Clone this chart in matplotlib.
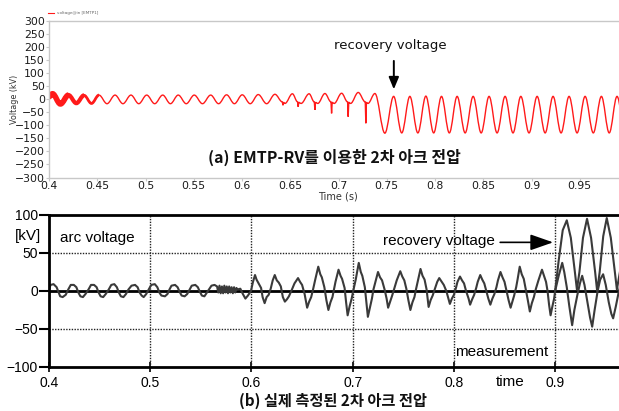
import matplotlib
matplotlib.use('Agg')
import matplotlib.pyplot as plt
from matplotlib.path import Path
from matplotlib.patches import PathPatch
from matplotlib.lines import Line2D

# (a) EMTP-RV simulation: extremes of the waveform (s, kV)
top_t = [0.4000, 0.4036, 0.4118, 0.4202, 0.4283, 0.4363, 0.4440, 0.4518, 0.4601, 0.4684,
         0.4766, 0.4849, 0.4930, 0.5012, 0.5095, 0.5178, 0.5258, 0.5339, 0.5422, 0.5505,
         0.5590, 0.5675, 0.5757, 0.5840, 0.5921, 0.6002, 0.6085, 0.6168, 0.6255, 0.6341,
         0.6418, 0.6424, 0.6430, 0.6445, 0.6522,
         0.6576, 0.6582, 0.6588, 0.6612, 0.6695,
         0.6749, 0.6755, 0.6761, 0.6785, 0.6859,
         0.6922, 0.6928, 0.6934, 0.6955, 0.7032,
         0.7094, 0.7100, 0.7106, 0.7125, 0.7204,
         0.7277, 0.7283, 0.7289, 0.7305, 0.7377,
         0.7480, 0.7571, 0.7655, 0.7739, 0.7822, 0.7905, 0.7986, 0.8067, 0.8148, 0.8229,
         0.8312, 0.8395, 0.8478, 0.8560, 0.8643, 0.8726, 0.8808, 0.8889, 0.8974, 0.9058,
         0.9141, 0.9223, 0.9306, 0.9389, 0.9472, 0.9555, 0.9640, 0.9724, 0.9805, 0.9886,
         0.9970]
top_v = [10, 21, -18, 16, -15, 15, -16, 16, -17, 16,
         -17, 16, -17, 16, -17, 16, -17, 16, -17, 16,
         -17, 16, -17, 17, -17, 17, -17, 18, -17, 19,
         -10, -23, -12, -16, 21,
         -10, -29, -12, -16, 21,
         -10, -41, -12, -16, 22,
         -10, -54, -12, -16, 23,
         -10, -67, -12, -16, 26,
         -10, -92, -12, -16, 22,
         -130, 11, -129, 11, -129, 12, -129, 11, -129, 11,
         -129, 11, -129, 11, -129, 11, -129, 11, -129, 11,
         -129, 11, -129, 11, -129, 11, -129, 11, -129, 11,
         -129]

# (b) measured arc voltage (s, kV)
bot_t = [0.400, 0.4015, 0.4045, 0.4075, 0.4095, 0.411, 0.4135, 0.4165, 0.419, 0.4215,
         0.4245, 0.427, 0.429, 0.431, 0.4335, 0.436, 0.439, 0.4415, 0.4445, 0.447,
         0.449, 0.451, 0.4535, 0.456, 0.459, 0.4615, 0.4645, 0.467, 0.469, 0.471,
         0.4735, 0.476, 0.4785, 0.4815, 0.485, 0.4875, 0.4895, 0.4915, 0.4935, 0.496,
         0.4985, 0.501, 0.5045, 0.507, 0.509, 0.511, 0.5145, 0.517, 0.519, 0.521,
         0.5245, 0.527, 0.529, 0.531, 0.534, 0.5365, 0.539, 0.541, 0.5445, 0.547,
         0.549, 0.551, 0.5535, 0.5555, 0.558, 0.5605, 0.5635,
         0.5660, 0.5672, 0.5684, 0.5696, 0.5708, 0.5720, 0.5732, 0.5744, 0.5756, 0.5768,
         0.5780, 0.5792, 0.5804, 0.5816, 0.5828, 0.5840, 0.5852,
         0.586, 0.589, 0.5915, 0.594, 0.5965, 0.598, 0.5995,
         0.6015, 0.6035, 0.605, 0.607, 0.6095, 0.611, 0.613, 0.615, 0.617, 0.619,
         0.621, 0.623, 0.625, 0.627, 0.629, 0.631, 0.633, 0.635, 0.637, 0.640,
         0.6425, 0.646, 0.648, 0.650, 0.6525, 0.655, 0.657, 0.659, 0.661, 0.663,
         0.666, 0.668, 0.6695, 0.672, 0.674, 0.676, 0.678, 0.680, 0.6815, 0.683,
         0.686, 0.688, 0.6895, 0.692, 0.6935, 0.695, 0.697, 0.699, 0.7005, 0.703,
         0.706, 0.708, 0.7095, 0.712, 0.7135, 0.715, 0.717, 0.719, 0.7205, 0.7225,
         0.725, 0.727, 0.729, 0.7315, 0.7335, 0.735, 0.737, 0.739, 0.741, 0.7435,
         0.747, 0.749, 0.751, 0.753, 0.755, 0.757, 0.759, 0.761, 0.7625, 0.7645,
         0.767, 0.769, 0.771, 0.773, 0.775, 0.777, 0.779, 0.781, 0.7835, 0.7855,
         0.788, 0.790, 0.7925, 0.7945, 0.796, 0.798, 0.800, 0.802, 0.8035, 0.806,
         0.808, 0.810, 0.812, 0.8145, 0.816, 0.818, 0.820, 0.822, 0.8235, 0.826,
         0.828, 0.830, 0.832, 0.834, 0.836, 0.838, 0.840, 0.842, 0.8435, 0.846,
         0.848, 0.850, 0.852, 0.854, 0.856, 0.858, 0.8595, 0.8615, 0.863, 0.865,
         0.867, 0.869, 0.871, 0.873, 0.875, 0.877, 0.879, 0.881, 0.8835, 0.887,
         0.889, 0.891, 0.8925, 0.894, 0.8955, 0.897, 0.899, 0.900,
         0.9035, 0.907, 0.909, 0.9115, 0.914, 0.9168, 0.919, 0.922, 0.9245, 0.9267,
         0.929, 0.932, 0.9345, 0.9366, 0.939, 0.942, 0.9445, 0.9474, 0.950, 0.953,
         0.9555, 0.9573, 0.960, 0.963, 0.966, 0.970]
bot_v = [2, 8, 9, 5, -2, -7, -8, -5, 2, 8,
         8, 5, -2, -7, -8, -4, 2, 8, 8, 5,
         -2, -7, -8, -4, 2, 8, 9, 5, -2, -7,
         -8, -4, 2, 7, 8, 5, -2, -6, -8, -4,
         2, 8, 9, 5, -2, -6, -7, -4, 2, 7,
         8, 5, -1, -6, -7, -4, 2, 7, 8, 5,
         -1, -6, -7, -3, 2, 7, 8,
         6, -2, 7, -3, 6, -3, 7, -2, 6, -3,
         6, -2, 5, -3, 5, -2, 4,
         2, 3, -4, -10, -6, -3, 0,
         12, 21, 15, 10, 4, -8, -16, -8, -5, 3,
         14, 21, 14, 11, 6, -8, -14, -11, -7, 2,
         10, 17, 12, 8, -4, -22, -14, -8, 3, 15,
         32, 22, 18, 5, -12, -25, -15, -8, 2, 12,
         28, 20, 16, 4, -15, -32, -20, -10, 0, 15,
         37, 25, 20, 5, -15, -34, -22, -10, 2, 12,
         25, 18, 14, 2, -10, -22, -14, -6, 3, 14,
         26, 19, 14, 3, -12, -25, -15, -8, 2, 14,
         29, 20, 15, 2, -21, -12, -6, 2, 12, 17,
         12, 8, 0, -10, -17, -10, -5, 4, 12, 19,
         14, 10, 0, -10, -18, -11, -5, 4, 12, 21,
         15, 10, 0, -10, -18, -10, -4, 5, 14, 25,
         18, 12, 0, -12, -22, -13, -6, 5, 16, 32,
         22, 16, 2, -12, -27, -16, -8, 3, 14, 28,
         20, 12, 0, -18, -32, -22, -10, 0,
         20, 37, 25, 5, -20, -45, -25, -5, 10, 20,
         8, -15, -35, -47, -25, 0, 15, 22, 8, -15,
         -30, -36, -20, 0, 15, 20]

# recovery voltage after the arc extinction
rec_t = [0.900, 0.9035, 0.9075, 0.9115, 0.9155, 0.9195, 0.9215, 0.924, 0.9275, 0.9315,
         0.9355, 0.9395, 0.9415, 0.944, 0.9475, 0.951, 0.955, 0.959, 0.961, 0.964,
         0.968, 0.972]
rec_v = [0, 40, 80, 93, 70, 25, 2, 25, 70, 95,
         70, 25, 0, 25, 72, 96, 70, 25, 2, 25,
         70, 95]

top_xticks = [0.4, 0.45, 0.5, 0.55, 0.6, 0.65, 0.7, 0.75, 0.8, 0.85, 0.9, 0.95]
top_yticks = list(range(-300, 301, 50))
bot_xticks = [0.4, 0.5, 0.6, 0.7, 0.8, 0.9]
bot_yticks = [-100, -50, 0, 50, 100]

KR = ['Noto Sans CJK KR', 'DejaVu Sans']


def smooth_path(ts, vs):
    # cubic bezier between extremes, flat tangent at each extreme
    verts = [(ts[0], vs[0])]
    codes = [Path.MOVETO]
    for i in range(1, len(ts)):
        dt = ts[i] - ts[i - 1]
        verts += [(ts[i - 1] + 0.36 * dt, vs[i - 1]), (ts[i] - 0.36 * dt, vs[i]), (ts[i], vs[i])]
        codes += [Path.CURVE4] * 3
    return Path(verts, codes)


def part(ts, vs, a, b):
    idx = [i for i, t in enumerate(ts) if a <= t <= b]
    return [ts[i] for i in idx], [vs[i] for i in idx]


fig = plt.figure(figsize=(6.19, 4.11), dpi=100)

# ---------------- (a) ----------------
ax1 = fig.add_axes([0.0792, 0.5681, 0.9354, 0.3808])
ax1.set_xlim(0.4, 1.0)
ax1.set_ylim(-300, 300)
ax1.add_patch(PathPatch(smooth_path(top_t, top_v), facecolor='none', edgecolor='#ff1a1a', lw=1.0))
for a, b, w in [(0.4, 0.4202, 4.0), (0.4118, 0.4363, 3.0), (0.4283, 0.4518, 2.0)]:
    pt, pv = part(top_t, top_v, a, b)
    ax1.add_patch(PathPatch(smooth_path(pt, pv), facecolor='none', edgecolor='#ff1a1a', lw=w))

for s in ax1.spines.values():
    s.set_color('#c8c8c8')
    s.set_linewidth(1.0)
ax1.set_xticks(top_xticks)
ax1.set_xticklabels(['%g' % x for x in top_xticks])
ax1.set_yticks(top_yticks)
ax1.tick_params(axis='both', labelsize=7.8, colors='#c8c8c8', labelcolor='#1a1a1a', length=2, pad=1)
ax1.tick_params(axis='x', pad=0.3)
ax1.text(0.7532, 207, 'recovery voltage', ha='center', va='center', fontsize=9.5, color='#111111')
ax1.annotate('', xy=(0.7573, 38), xytext=(0.7573, 147),
             arrowprops=dict(arrowstyle='-|>,head_length=0.6,head_width=0.25', color='black', lw=1.4,
                             shrinkA=0, shrinkB=0, mutation_scale=12))
fig.text(0.541, 0.618, '(a) EMTP-RV를 이용한 2차 아크 전압', ha='center', va='center',
         fontsize=11.5, fontweight='bold', family=KR, color='#111111')
fig.text(0.0242, 0.757, 'Voltage (kV)', rotation=90, ha='center', va='center', fontsize=5.8, color='#333333')
fig.text(0.546, 0.523, 'Time (s)', ha='center', va='center', fontsize=7, color='#333333')
fig.add_artist(Line2D([48 / 619, 54 / 619], [1 - 13 / 411, 1 - 13 / 411], color='#ff1a1a', lw=0.8))
fig.text(57 / 619, 1 - 13 / 411, 'voltage@in [EMTP1]', ha='left', va='center', fontsize=3, color='#666666')

# ---------------- (b) ----------------
ax2 = fig.add_axes([0.0792, 0.1071, 0.9321, 0.3698])
ax2.set_xlim(0.4, 0.97)
ax2.set_ylim(-100, 100)
for y in [50, -50]:
    ax2.axhline(y, color='#222222', lw=1.0, ls=(0, (1, 1)))
for x in [0.5, 0.6, 0.7, 0.8, 0.9]:
    ax2.axvline(x, color='#222222', lw=1.0, ls=(0, (1, 1)))
ax2.axhline(0, color='black', lw=2.0)
ax2.plot(bot_t, bot_v, color='#3a3a3a', lw=1.5)
ax2.plot(rec_t, rec_v, color='#3a3a3a', lw=1.5)

for s in ax2.spines.values():
    s.set_color('black')
    s.set_linewidth(2.0)
ax2.set_xticks(bot_xticks)
ax2.set_xticklabels(['%g' % x for x in bot_xticks])
ax2.set_yticks(bot_yticks)
ax2.tick_params(axis='x', direction='inout', length=7, width=1.2, labelsize=10, pad=3)
ax2.tick_params(axis='y', direction='out', length=7, width=1.5, labelsize=10, pad=1)
for lab in ax2.get_xticklabels() + ax2.get_yticklabels():
    lab.set_family('Liberation Sans')

ax2.text(0.4109, 70, 'arc voltage', ha='left', va='center', fontsize=11, family='Liberation Sans')
ax2.text(0.7854, 66, 'recovery voltage', ha='center', va='center', fontsize=11, family='Liberation Sans')
ax2.annotate('', xy=(0.898, 64), xytext=(0.8457, 64),
             arrowprops=dict(arrowstyle='-|>,head_length=1.0,head_width=0.35', color='black', lw=1.2,
                             shrinkA=0, shrinkB=0, mutation_scale=14))
ax2.text(0.8476, -80, 'measurement', ha='center', va='center', fontsize=11, family='Liberation Sans')
fig.text(0.0452, 0.4258, '[kV]', ha='center', va='center', fontsize=11, family='Liberation Sans')
fig.text(0.824, 0.0706, 'time', ha='center', va='center', fontsize=11, family='Liberation Sans')
fig.text(0.538, 0.024, '(b) 실제 측정된 2차 아크 전압', ha='center', va='center',
         fontsize=11, fontweight='bold', family=KR, color='#111111')

fig.savefig('out.png', dpi=100)
